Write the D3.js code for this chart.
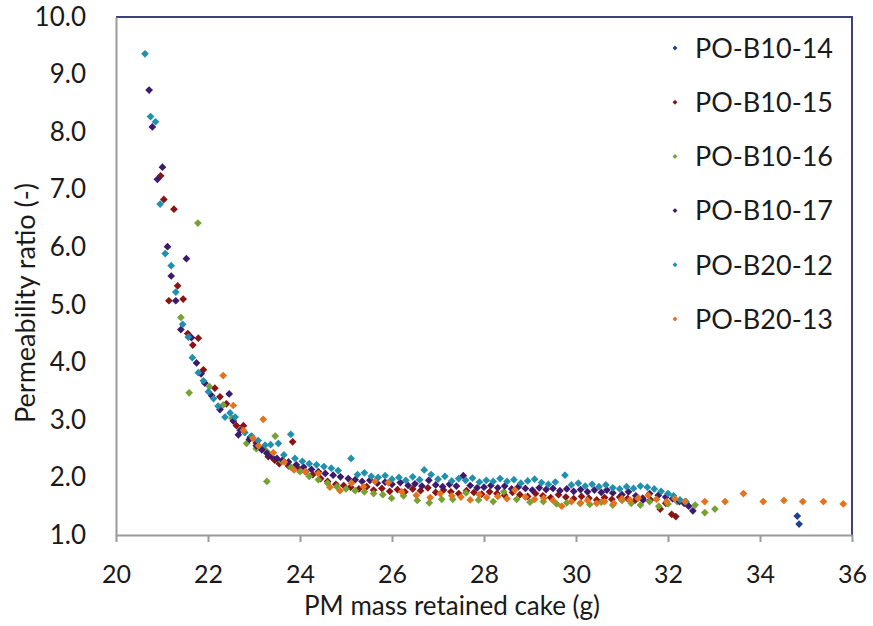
<!DOCTYPE html>
<html>
<head>
<meta charset="utf-8">
<script src="https://cdn.jsdelivr.net/npm/d3@7"></script>
<style>
  html, body { margin: 0; padding: 0; background: #ffffff; }
  svg { display: block; }
  text { font-family: Lato, "Noto Sans", sans-serif; fill: #1a1a1a; }
</style>
</head>
<body>
<svg id="chart" width="873" height="626"></svg>
<script>
// ---------------- data ----------------
const seriesNames = ["PO-B10-14", "PO-B10-15", "PO-B10-16", "PO-B10-17", "PO-B20-12", "PO-B20-13"];
const seriesColors = ["#1f3f8f", "#8a1414", "#76a232", "#3c1a6c", "#2190ad", "#e3731f"];

const xTicks = [20, 22, 24, 26, 28, 30, 32, 34, 36];
const yTicks = [1, 2, 3, 4, 5, 6, 7, 8, 9, 10];

const b10_14 = [[34.81,1.33],[34.85,1.19]];

const b10_15 = [
  [20.97,7.24],[21.04,6.83],[21.26,6.66],[21.15,5.07],[21.34,5.33],[21.46,5.10],[21.56,4.50],[21.67,4.30],
  [21.79,4.42],[21.90,3.87],[22.15,3.55],[22.26,3.40],[22.40,3.28],[22.62,2.90],[22.77,2.90],[22.92,2.70],
  [23.05,2.60],[23.20,2.50],[23.31,2.36],[23.45,2.30],[23.55,2.24],[23.84,2.62],[23.75,2.20],[23.95,2.16],
  [24.12,2.10],[24.28,2.05],[24.45,1.98],[24.60,1.93],[24.78,1.88],[24.95,1.86],[25.10,1.83],[25.28,1.80],
  [25.45,1.84],[25.60,1.78],[25.78,1.81],[25.95,1.76],[26.12,1.79],[26.28,1.75],[26.45,1.80],[26.62,1.77],
  [26.78,1.82],[26.95,1.74],[27.12,1.78],[27.28,1.75],[27.45,1.72],[27.62,1.77],[27.78,1.74],[27.95,1.71],
  [28.12,1.75],[28.28,1.72],[28.45,1.69],[28.62,1.74],[28.78,1.70],[28.95,1.67],[29.12,1.72],[29.28,1.68],
  [29.45,1.65],[29.62,1.70],[29.78,1.66],[29.95,1.63],[30.12,1.67],[30.28,1.64],[30.45,1.61],[30.62,1.65],
  [30.78,1.62],[30.95,1.66],[31.12,1.63],[31.28,1.60],[31.45,1.64],[31.62,1.61],[31.83,1.45],[31.95,1.55],
  [32.08,1.36],[32.17,1.32]
];

const b10_16 = [
  [21.41,4.78],[21.59,3.47],[21.78,6.42],[22.03,3.58],[22.33,3.26],[22.52,3.03],[22.84,2.59],[23.05,2.50],
  [23.28,1.93],[23.28,2.45],[23.46,2.72],[23.60,2.28],[23.80,2.18],[24.00,2.10],[24.20,2.02],[24.40,1.96],
  [24.60,1.90],[24.80,1.84],[25.00,1.80],[25.20,1.77],[25.40,1.75],[25.60,1.72],[25.80,1.70],[25.99,1.64],
  [26.25,1.68],[26.55,1.60],[26.81,1.56],[27.08,1.62],[27.32,1.62],[27.61,1.73],[27.88,1.61],[28.20,1.58],
  [28.43,1.75],[28.71,1.62],[29.00,1.57],[29.29,1.58],[29.58,1.54],[29.80,1.56],[30.09,1.55],[30.30,1.53],
  [30.55,1.57],[30.80,1.52],[31.00,1.60],[31.20,1.55],[31.40,1.52],[31.60,1.58],[31.80,1.50],[32.00,1.54],
  [32.20,1.58],[32.40,1.55],[32.59,1.52],[32.80,1.39],[33.02,1.45]
];

const b10_17 = [
  [20.72,8.73],[20.79,8.09],[20.90,7.18],[21.01,7.39],[21.12,6.01],[21.20,5.50],[21.30,5.07],[21.41,4.57],
  [21.53,5.80],[21.64,4.43],[21.75,3.99],[21.85,3.80],[21.93,3.64],[22.08,3.42],[22.26,3.18],[22.46,3.45],
  [22.55,2.98],[22.70,2.82],[22.66,2.74],[22.90,2.66],[23.05,2.55],[23.17,2.48],[23.28,2.42],[23.38,2.36],
  [23.50,2.33],[23.62,2.30],[23.75,2.27],[23.92,2.22],[24.08,2.18],[24.25,2.14],[24.40,2.10],[24.55,2.07],
  [24.72,2.04],[24.88,2.01],[25.05,1.98],[25.20,1.96],[25.35,1.93],[25.52,1.95],[25.68,1.90],[25.85,1.92],
  [26.00,1.88],[26.18,1.91],[26.35,1.86],[26.50,1.89],[26.65,1.85],[26.80,1.95],[26.95,1.87],[27.10,1.84],
  [27.25,1.88],[27.40,1.85],[27.55,2.03],[27.70,1.86],[27.85,1.82],[28.00,1.83],[28.15,1.86],[28.30,1.82],
  [28.45,1.85],[28.60,1.80],[28.75,1.84],[28.90,1.81],[29.05,1.78],[29.20,1.82],[29.35,1.79],[29.50,1.81],
  [29.65,1.77],[29.80,1.80],[29.95,1.76],[30.10,1.79],[30.25,1.75],[30.40,1.78],[30.55,1.74],[30.67,1.78],
  [30.80,1.73],[31.00,1.70],[31.14,1.75],[31.30,1.68],[31.46,1.61],[31.60,1.72],[31.79,1.69],[31.95,1.66],
  [32.10,1.63],[32.25,1.58],[32.35,1.55],[32.45,1.50],[32.54,1.42]
];

const b20_12 = [
  [20.63,9.36],[20.75,8.27],[20.86,8.18],[20.96,6.75],[21.07,5.89],[21.20,5.68],[21.30,5.22],[21.45,4.66],
  [21.57,4.44],[21.66,4.08],[21.79,3.82],[21.90,3.68],[22.01,3.49],[22.12,3.37],[22.22,3.24],[22.37,3.05],
  [22.48,3.12],[22.59,3.05],[22.80,2.78],[22.95,2.72],[23.09,2.64],[23.24,2.56],[23.36,2.57],[23.53,2.59],
  [23.65,2.39],[23.80,2.75],[23.89,2.33],[24.05,2.28],[24.20,2.24],[24.36,2.22],[24.52,2.19],[24.68,2.16],
  [24.83,2.12],[25.11,2.33],[25.25,2.05],[25.40,2.08],[25.55,2.02],[25.70,2.00],[25.85,2.03],[26.00,1.97],
  [26.15,2.00],[26.30,1.95],[26.45,2.01],[26.60,1.96],[26.70,2.13],[26.85,2.05],[27.00,1.97],[27.15,2.02],
  [27.30,1.94],[27.45,1.98],[27.60,1.95],[27.75,1.99],[27.90,1.92],[28.05,1.95],[28.20,1.93],[28.35,1.98],
  [28.50,1.93],[28.65,1.96],[28.80,1.90],[28.95,1.94],[29.10,1.97],[29.25,1.91],[29.40,1.88],[29.55,1.92],
  [29.76,2.04],[29.90,1.87],[30.05,1.90],[30.20,1.85],[30.35,1.88],[30.50,1.84],[30.65,1.87],[30.80,1.82],
  [30.95,1.80],[31.10,1.84],[31.25,1.81],[31.40,1.85],[31.55,1.83],[31.70,1.80],[31.85,1.76],[32.00,1.72],
  [32.12,1.68],[32.26,1.61],[32.39,1.58]
];

const b20_13 = [
  [22.33,3.77],[22.55,3.25],[22.77,2.82],[22.98,2.68],[23.20,3.01],[23.10,2.55],[23.42,2.43],[23.66,2.27],
  [23.87,2.13],[24.11,2.10],[24.40,2.07],[24.65,1.83],[24.87,1.77],[25.12,1.90],[25.38,1.84],[25.63,1.93],
  [25.92,1.91],[26.21,1.75],[26.53,1.69],[26.83,1.65],[27.05,1.72],[27.30,1.68],[27.50,1.66],[27.70,1.61],
  [27.90,1.70],[28.06,1.65],[28.30,1.67],[28.50,1.63],[28.67,1.78],[28.90,1.66],[29.10,1.62],[29.30,1.64],
  [29.50,1.60],[29.69,1.50],[29.90,1.58],[30.10,1.56],[30.25,1.60],[30.45,1.55],[30.62,1.58],[30.82,1.55],
  [31.00,1.63],[31.17,1.61],[31.35,1.64],[31.57,1.69],[31.75,1.62],[31.97,1.58],[32.15,1.63],[32.37,1.58],
  [32.80,1.58],[33.24,1.58],[33.64,1.72],[34.07,1.58],[34.52,1.60],[34.93,1.58],[35.38,1.58],[35.81,1.54]
];

const seriesData = [b10_14, b10_15, b10_16, b10_17, b20_12, b20_13];

// ---------------- drawing ----------------
const svg = d3.select("#chart");
const plot = { left: 116, right: 852, top: 17, bottom: 535 };

const x = d3.scaleLinear().domain([20, 36]).range([plot.left, plot.right]);
const y = d3.scaleLinear().domain([1, 10]).range([plot.bottom, plot.top]);

// frame: top and right border (navy)
svg.append("line").attr("x1", plot.left).attr("x2", plot.right + 1)
  .attr("y1", plot.top).attr("y2", plot.top)
  .attr("stroke", "#3d4378").attr("stroke-width", 2);
svg.append("line").attr("x1", plot.right).attr("x2", plot.right)
  .attr("y1", plot.top).attr("y2", plot.bottom)
  .attr("stroke", "#3d4378").attr("stroke-width", 2);

// x axis
const xAxis = svg.append("g")
  .attr("transform", `translate(0,${plot.bottom})`)
  .call(d3.axisBottom(x).tickValues(xTicks).tickSize(7).tickSizeOuter(0).tickPadding(23).tickFormat(d3.format("d")));
xAxis.select(".domain").attr("stroke", "#9a9a9a").attr("stroke-width", 2);
xAxis.selectAll(".tick line").attr("stroke", "#9a9a9a").attr("stroke-width", 2);
xAxis.selectAll(".tick text").attr("font-size", 25).attr("font-family", "Lato").attr("fill", "#1a1a1a");

// y axis
const yAxis = svg.append("g")
  .attr("transform", `translate(${plot.left},0)`)
  .call(d3.axisLeft(y).tickValues(yTicks).tickSize(0).tickSizeOuter(0).tickPadding(30).tickFormat(d3.format(".1f")));
yAxis.select(".domain").attr("stroke", "#9a9a9a").attr("stroke-width", 2);
yAxis.selectAll(".tick text").attr("font-size", 26).attr("font-family", "Lato").attr("fill", "#1a1a1a");

// axis titles
svg.append("text")
  .attr("x", 452).attr("y", 615)
  .attr("text-anchor", "middle")
  .attr("font-size", 26)
  .text("PM mass retained cake (g)");

svg.append("text")
  .attr("transform", "translate(35,303) rotate(-90)")
  .attr("text-anchor", "middle")
  .attr("font-size", 27)
  .text("Permeability ratio (-)");

// markers
const marker = d3.symbol().type(d3.symbolSquare).size(30);
const markerLegend = d3.symbol().type(d3.symbolSquare).size(12);

seriesData.forEach((pts, i) => {
  svg.append("g")
    .selectAll("path")
    .data(pts)
    .join("path")
    .attr("d", marker)
    .attr("transform", d => `translate(${x(d[0])},${y(d[1])}) rotate(45)`)
    .attr("fill", seriesColors[i]);
});

// legend
const legend = svg.append("g");
const legendY = d3.scalePoint().domain(seriesNames).range([48, 319]);
seriesNames.forEach((name, i) => {
  legend.append("path")
    .attr("d", markerLegend)
    .attr("transform", `translate(675,${legendY(name)}) rotate(45)`)
    .attr("fill", seriesColors[i]);
  legend.append("text")
    .attr("x", 695).attr("y", legendY(name))
    .attr("dy", "0.36em")
    .attr("font-size", 27)
    .text(name);
});
</script>
</body>
</html>
